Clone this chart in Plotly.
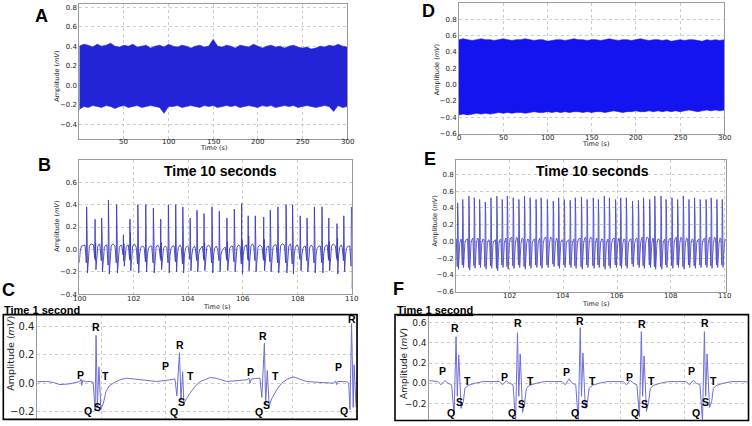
import plotly.graph_objects as go

W, H = 752, 426

# ---------------- Panel A / D : 300 s records (envelope of the dense trace) -------------
A_t = list(range(0, 301, 5))
A_upper = [0.40, 0.42, 0.41, 0.39, 0.42, 0.40, 0.41, 0.43, 0.40, 0.39,
           0.41, 0.40, 0.42, 0.39, 0.40, 0.41, 0.38, 0.40, 0.41, 0.39,
           0.42, 0.40, 0.39, 0.41, 0.40, 0.38, 0.40, 0.41, 0.39, 0.40,
           0.47, 0.40, 0.39, 0.41, 0.40, 0.38, 0.41, 0.40, 0.39, 0.42,
           0.40, 0.38, 0.40, 0.41, 0.39, 0.40, 0.38, 0.40, 0.41, 0.39,
           0.38, 0.39, 0.37, 0.38, 0.40, 0.39, 0.41, 0.40, 0.42, 0.40, 0.39]
A_lower = [-0.25, -0.22, -0.23, -0.21, -0.22, -0.23, -0.21, -0.22, -0.24, -0.22,
           -0.21, -0.23, -0.22, -0.21, -0.23, -0.22, -0.21, -0.22, -0.23, -0.29,
           -0.22, -0.22, -0.21, -0.23, -0.22, -0.21, -0.22, -0.23, -0.21, -0.22,
           -0.21, -0.23, -0.22, -0.21, -0.22, -0.21, -0.23, -0.22, -0.21, -0.22,
           -0.23, -0.21, -0.22, -0.21, -0.23, -0.22, -0.21, -0.22, -0.21, -0.23,
           -0.22, -0.21, -0.22, -0.23, -0.22, -0.21, -0.22, -0.27, -0.21, -0.23, -0.22]
A_xticks = [50, 100, 150, 200, 250, 300]

D_t = list(range(0, 301, 5))
D_upper = [0.55, 0.56, 0.55, 0.54, 0.55, 0.56, 0.55, 0.55, 0.54, 0.55,
           0.56, 0.55, 0.54, 0.55, 0.55, 0.56, 0.55, 0.54, 0.55, 0.55,
           0.53, 0.54, 0.55, 0.55, 0.54, 0.55, 0.56, 0.55, 0.55, 0.54,
           0.55, 0.55, 0.54, 0.55, 0.56, 0.55, 0.54, 0.55, 0.55, 0.54,
           0.55, 0.56, 0.55, 0.54, 0.55, 0.55, 0.54, 0.55, 0.53, 0.54,
           0.55, 0.54, 0.55, 0.55, 0.54, 0.53, 0.55, 0.54, 0.55, 0.54, 0.55]
D_lower = [-0.37, -0.36, -0.37, -0.36, -0.35, -0.36, -0.35, -0.36, -0.35, -0.34,
           -0.35, -0.34, -0.35, -0.34, -0.34, -0.35, -0.34, -0.33, -0.34, -0.34,
           -0.33, -0.34, -0.33, -0.34, -0.33, -0.34, -0.33, -0.33, -0.34, -0.33,
           -0.34, -0.33, -0.33, -0.34, -0.33, -0.32, -0.33, -0.34, -0.33, -0.33,
           -0.32, -0.33, -0.33, -0.32, -0.33, -0.32, -0.33, -0.32, -0.33, -0.32,
           -0.33, -0.32, -0.31, -0.32, -0.33, -0.32, -0.31, -0.32, -0.31, -0.32, -0.31]
D_xticks = [0, 50, 100, 150, 200, 250, 300]

# ---------------- Panel B : 10 s window (beat times / amplitudes) ----------------
B_beat_t = [100.27, 100.58, 100.82, 101.07, 101.37, 101.62, 101.86, 102.15, 102.44, 102.72,
            102.99, 103.27, 103.54, 103.80, 104.07, 104.32, 104.58, 104.87, 105.14, 105.42,
            105.69, 105.96, 106.20, 106.46, 106.77, 107.01, 107.29, 107.59, 107.83, 108.11,
            108.36, 108.63, 108.91, 109.16, 109.46, 109.71, 109.99]
B_R = [0.38, 0.27, 0.28, 0.44, 0.40, 0.13, 0.27, 0.40, 0.40, 0.37,
       0.27, 0.40, 0.40, 0.38, 0.28, 0.35, 0.32, 0.38, 0.34, 0.28,
       0.36, 0.41, 0.30, 0.30, 0.29, 0.35, 0.38, 0.40, 0.40, 0.30,
       0.28, 0.38, 0.38, 0.28, 0.23, 0.30, 0.38]
B_P2 = [0.10, 0.06, 0.12, 0.08, 0.10, 0.05, 0.15, 0.09, 0.07, 0.11,
        0.06, 0.10, 0.08, 0.12, 0.07, 0.10, 0.06, 0.09, 0.11, 0.07,
        0.10, 0.08, 0.12, 0.06, 0.09, 0.10, 0.07, 0.11, 0.08, 0.10,
        0.06, 0.09, 0.12, 0.07, 0.10, 0.08, 0.10]
B_S = [-0.21, -0.18, -0.20, -0.22, -0.21, -0.15, -0.19, -0.21, -0.20, -0.21,
       -0.18, -0.21, -0.20, -0.21, -0.19, -0.20, -0.19, -0.21, -0.20, -0.19,
       -0.20, -0.22, -0.19, -0.20, -0.19, -0.20, -0.21, -0.21, -0.22, -0.19,
       -0.20, -0.21, -0.21, -0.19, -0.22, -0.20, -0.35]
B_Q = [-0.12, -0.08, -0.10, -0.14, -0.12, -0.05, -0.09, -0.13, -0.11, -0.12,
       -0.08, -0.12, -0.11, -0.13, -0.09, -0.10, -0.09, -0.12, -0.10, -0.09,
       -0.11, -0.13, -0.09, -0.10, -0.09, -0.11, -0.12, -0.12, -0.13, -0.09,
       -0.10, -0.12, -0.12, -0.09, -0.08, -0.10, -0.15]
B_base = [0.04, 0.04, 0.03, 0.04, 0.03, 0.03, 0.04, 0.02, 0.02, 0.03,
          0.02, 0.02, 0.03, 0.02, 0.02, 0.01, 0.03, 0.02, 0.00, 0.02,
          0.03, 0.03, 0.04, 0.03, 0.02, 0.03, 0.04, 0.04, 0.03, 0.02,
          0.03, 0.02, 0.03, 0.04, 0.03, 0.02, 0.03]
B_xticks = [100, 102, 104, 106, 108, 110]

# ---------------- Panel E : 10 s window ----------------
E_beat_t = [100.06, 100.25, 100.48, 100.68, 100.88, 101.09, 101.30, 101.52, 101.72, 101.91,
            102.13, 102.34, 102.55, 102.76, 102.98, 103.17, 103.40, 103.62, 103.82, 104.03,
            104.25, 104.44, 104.67, 104.88, 105.11, 105.30, 105.52, 105.71, 105.94, 106.13,
            106.34, 106.57, 106.79, 106.98, 107.21, 107.40, 107.63, 107.82, 108.04, 108.25,
            108.46, 108.67, 108.88, 109.09, 109.31, 109.50, 109.71, 109.91]
E_R = [0.46, 0.50, 0.54, 0.52, 0.50, 0.47, 0.52, 0.54, 0.50, 0.54,
       0.52, 0.50, 0.54, 0.52, 0.50, 0.52, 0.50, 0.48, 0.52, 0.50,
       0.49, 0.52, 0.53, 0.50, 0.52, 0.50, 0.54, 0.52, 0.50, 0.52,
       0.52, 0.48, 0.49, 0.52, 0.50, 0.54, 0.54, 0.50, 0.52, 0.50,
       0.54, 0.50, 0.52, 0.50, 0.50, 0.52, 0.50, 0.50]
E_P2 = [0.28, 0.30, 0.32, 0.30, 0.28, 0.30, 0.31, 0.30, 0.29, 0.31,
        0.30, 0.28, 0.31, 0.30, 0.29, 0.30, 0.28, 0.30, 0.31, 0.29,
        0.30, 0.31, 0.30, 0.28, 0.30, 0.29, 0.31, 0.30, 0.29, 0.30,
        0.31, 0.28, 0.29, 0.30, 0.29, 0.31, 0.32, 0.29, 0.30, 0.28,
        0.31, 0.29, 0.30, 0.29, 0.30, 0.31, 0.29, 0.30]
E_S = [-0.33, -0.31, -0.34, -0.32, -0.31, -0.33, -0.32, -0.35, -0.31, -0.33,
       -0.32, -0.31, -0.33, -0.32, -0.31, -0.32, -0.31, -0.30, -0.32, -0.31,
       -0.31, -0.32, -0.33, -0.31, -0.32, -0.31, -0.33, -0.32, -0.31, -0.32,
       -0.32, -0.30, -0.31, -0.32, -0.31, -0.33, -0.33, -0.31, -0.32, -0.31,
       -0.33, -0.31, -0.32, -0.31, -0.31, -0.32, -0.31, -0.31]
E_Q = [-0.30, -0.28, -0.31, -0.29, -0.28, -0.30, -0.29, -0.32, -0.28, -0.30,
       -0.29, -0.28, -0.30, -0.29, -0.28, -0.29, -0.28, -0.27, -0.29, -0.28,
       -0.28, -0.29, -0.30, -0.28, -0.29, -0.28, -0.30, -0.29, -0.28, -0.29,
       -0.29, -0.27, -0.28, -0.29, -0.28, -0.30, -0.30, -0.28, -0.29, -0.28,
       -0.30, -0.28, -0.29, -0.28, -0.28, -0.29, -0.28, -0.28]
E_base = [0.03, 0.02, 0.03, 0.04, 0.03, 0.02, 0.01, 0.02, 0.03, 0.04,
          0.05, 0.04, 0.03, 0.02, 0.03, 0.04, 0.05, 0.04, 0.02, 0.01,
          0.02, 0.03, 0.04, 0.05, 0.04, 0.03, 0.02, 0.03, 0.04, 0.03,
          0.02, 0.03, 0.04, 0.05, 0.04, 0.03, 0.02, 0.03, 0.04, 0.05,
          0.04, 0.03, 0.02, 0.03, 0.04, 0.05, 0.04, 0.03]
E_xticks = [102, 104, 106, 108, 110]

# ---------------- Panel C : 1 s trace ----------------
C_t = [0.000, 0.030, 0.050, 0.071, 0.100, 0.124, 0.134, 0.137, 0.139, 0.142, 0.150, 0.165, 0.175,
       0.181, 0.184, 0.188, 0.193, 0.199, 0.207, 0.215, 0.225, 0.238, 0.260, 0.280, 0.300, 0.322,
       0.350, 0.374, 0.405, 0.425, 0.431, 0.437, 0.445, 0.450, 0.455, 0.459, 0.466, 0.478, 0.495,
       0.509, 0.541, 0.560, 0.593, 0.620, 0.656, 0.663, 0.666, 0.670, 0.690, 0.697, 0.703, 0.711,
       0.715, 0.720, 0.726, 0.734, 0.750, 0.765, 0.781, 0.801, 0.820, 0.843, 0.885, 0.927, 0.934,
       0.937, 0.940, 0.969, 0.975, 0.979, 0.984, 0.989, 0.992, 0.998]
C_v = [0.010, 0.012, 0.005, -0.010, -0.005, 0.010, 0.012, 0.030, -0.015, 0.020, 0.010, 0.012, 0.005,
       -0.195, 0.337, -0.170, 0.115, -0.185, -0.140, -0.060, -0.020, 0.000, 0.025, 0.035, 0.030, 0.025,
       0.015, 0.012, 0.020, 0.028, 0.030, -0.090, 0.215, -0.120, 0.080, -0.140, -0.110, -0.070, -0.020,
       0.010, 0.040, 0.035, 0.012, 0.015, 0.024, 0.035, 0.000, 0.030, 0.030, 0.035, -0.100, 0.280,
       -0.150, 0.090, -0.160, -0.110, -0.045, 0.000, 0.026, 0.045, 0.030, 0.012, 0.005, 0.000, 0.015,
       -0.010, 0.012, 0.010, 0.000, -0.186, 0.420, -0.170, 0.130, -0.170]
C_lab_text = ["P", "P", "P", "P", "R", "R", "R", "R", "T", "T", "T", "Q", "Q", "Q", "Q", "S", "S", "S"]
C_lab_t = [0.134, 0.400, 0.666, 0.942, 0.183, 0.447, 0.706, 0.986, 0.215, 0.480, 0.747,
           0.160, 0.429, 0.694, 0.961, 0.188, 0.452, 0.718]
C_lab_v = [0.061, 0.121, 0.082, 0.111, 0.395, 0.268, 0.330, 0.453, 0.054, 0.054, 0.054,
           -0.197, -0.204, -0.204, -0.197, -0.169, -0.134, -0.151]

# ---------------- Panel F : 1 s trace (5 beats) ----------------
F_beat_t = [0.084, 0.277, 0.474, 0.666, 0.864]
F_P = [0.026, 0.023, 0.043, 0.030, 0.030]
F_Q = [-0.31, -0.38, -0.38, -0.33, -0.38]
F_R = [0.46, 0.50, 0.55, 0.51, 0.51]
F_P2 = [0.28, 0.29, 0.30, 0.27, 0.29]
F_S = [-0.25, -0.29, -0.25, -0.28, -0.24]
F_lab_text = ["R"] * 5 + ["P"] * 5 + ["T"] * 5 + ["Q"] * 5 + ["S"] * 5
F_lab_t = [0.081, 0.278, 0.474, 0.669, 0.865,
           0.040, 0.236, 0.432, 0.629, 0.823,
           0.121, 0.317, 0.514, 0.697, 0.893,
           0.068, 0.260, 0.458, 0.645, 0.839,
           0.094, 0.288, 0.487, 0.676, 0.868]
F_lab_v = [0.546, 0.592, 0.612, 0.585, 0.592,
           0.121, 0.065, 0.114, 0.065, 0.121,
           0.023, 0.023, 0.023, 0.023, 0.023,
           -0.293, -0.293, -0.293, -0.293, -0.293,
           -0.188, -0.211, -0.211, -0.211, -0.188]


def band(t, up, lo):
    return t + t[::-1], up + lo[::-1]


def beats_B():
    x, y = [100.0, 100.03, 100.08], [-0.12, -0.02, 0.03]
    for i, t in enumerate(B_beat_t):
        b = B_base[i]
        x += [t - 0.06, t - 0.012, t, t + 0.01, t + 0.02, t + 0.03, t + 0.06, t + 0.10, t + 0.16]
        y += [b, B_Q[i], B_R[i], -0.10, B_P2[i], B_S[i], -0.05, b - 0.01, b + 0.01]
    return x, y


def beats_E():
    x, y = [100.0], [0.03]
    for i, t in enumerate(E_beat_t):
        b = E_base[i]
        x += [t - 0.05, t - 0.014, t, t + 0.009, t + 0.018, t + 0.03, t + 0.05, t + 0.08, t + 0.12]
        y += [b, E_Q[i], E_R[i], -0.10, E_P2[i], E_S[i], -0.10, -0.02, b]
    return x, y


def beats_F():
    x, y = [0.0, 0.015], [0.026, 0.020]
    offs = [-0.057, -0.047, -0.035, -0.025, -0.014, -0.006, 0.0, 0.004, 0.0085,
            0.016, 0.023, 0.028, 0.039, 0.060, 0.085, 0.116]
    for i, t in enumerate(F_beat_t):
        vals = [0.016, -0.016, F_P[i], 0.0, -0.016, F_Q[i], F_R[i], -0.13, F_P2[i],
                F_S[i], -0.18, -0.05, -0.02, 0.0, 0.016, 0.016]
        x += [t + o for o in offs]
        y += vals
    x += [1.0]
    y += [0.012]
    return x, y


def dx(l, r):
    return [l / W, r / W]


def dy(top, bottom):
    return [1 - bottom / H, 1 - top / H]


fig = go.Figure()

ax, ay = band(A_t, A_upper, A_lower)
fig.add_trace(go.Scatter(x=ax, y=ay, fill="toself", mode="lines",
                         line=dict(color="rgb(35,35,215)", width=0.6),
                         fillcolor="rgb(35,35,215)", xaxis="x", yaxis="y"))
bx, by = beats_B()
fig.add_trace(go.Scatter(x=bx, y=by, mode="lines", line=dict(color="rgb(60,60,190)", width=0.9),
                         xaxis="x2", yaxis="y2"))
fig.add_trace(go.Scatter(x=C_t, y=C_v, mode="lines", line=dict(color="rgb(110,110,215)", width=1),
                         xaxis="x3", yaxis="y3"))
dxx, dyy = band(D_t, D_upper, D_lower)
fig.add_trace(go.Scatter(x=dxx, y=dyy, fill="toself", mode="lines",
                         line=dict(color="rgb(20,20,240)", width=0.6),
                         fillcolor="rgb(20,20,240)", xaxis="x4", yaxis="y4"))
ex, ey = beats_E()
fig.add_trace(go.Scatter(x=ex, y=ey, mode="lines", line=dict(color="rgb(75,75,200)", width=0.9),
                         xaxis="x5", yaxis="y5"))
fx, fy = beats_F()
fig.add_trace(go.Scatter(x=fx, y=fy, mode="lines", line=dict(color="rgb(110,110,215)", width=1),
                         xaxis="x6", yaxis="y6"))

tick_small = dict(family="DejaVu Sans", size=7, color="#222")


def axc(**kw):
    d = dict(showgrid=True, gridcolor="#cccccc", griddash="dot", gridwidth=1,
             showline=True, linecolor="#9a9a9a", linewidth=1, mirror=True,
             ticks="", zeroline=False, tickfont=tick_small, fixedrange=True)
    d.update(kw)
    return d


fig.update_layout(
    width=W, height=H, margin=dict(l=0, r=0, t=0, b=0), autosize=False,
    paper_bgcolor="white", plot_bgcolor="white", showlegend=False,
    xaxis=axc(domain=dx(79.3, 347), range=[0, 300], tickvals=A_xticks, showticklabels=False, anchor="y"),
    yaxis=axc(domain=dy(3.3, 139.3), range=[-0.55, 0.83],
              tickvals=[-0.4, -0.2, 0.0, 0.2, 0.4, 0.6, 0.8], tickformat=".1f", anchor="x"),
    xaxis2=axc(domain=dx(79.3, 351.7), range=[100, 110], tickvals=B_xticks, showticklabels=False, anchor="y2"),
    yaxis2=axc(domain=dy(160.7, 296.7), range=[-0.4, 0.8],
               tickvals=[-0.4, -0.2, 0.0, 0.2, 0.4, 0.6], tickformat=".1f", anchor="x2"),
    xaxis3=axc(domain=dx(37.3, 356.7), range=[0, 1.0], tickvals=[0.2, 0.4, 0.6, 0.8],
               showticklabels=False, anchor="y3"),
    yaxis3=axc(domain=dy(317.3, 423), range=[-0.253, 0.484], tickvals=[-0.2, 0.0, 0.2, 0.4],
               tickformat=".1f", tickfont=dict(family="DejaVu Sans", size=10, color="#222"), anchor="x3"),
    xaxis4=axc(domain=dx(459, 724.3), range=[0, 300], tickvals=D_xticks, showticklabels=False, anchor="y4"),
    yaxis4=axc(domain=dy(1.9, 134.3), range=[-0.6, 1.0],
               tickvals=[-0.6, -0.4, -0.2, 0.0, 0.2, 0.4, 0.6, 0.8], tickformat=".1f", anchor="x4"),
    xaxis5=axc(domain=dx(456, 726), range=[100, 110.05], tickvals=E_xticks, showticklabels=False, anchor="y5"),
    yaxis5=axc(domain=dy(160.7, 294.3), range=[-0.6, 0.972],
               tickvals=[-0.6, -0.4, -0.2, 0.0, 0.2, 0.4, 0.6, 0.8], tickformat=".1f", anchor="x5"),
    xaxis6=axc(domain=dx(429.3, 747.7), range=[0, 1.0], tickvals=[0.2, 0.4, 0.6, 0.8],
               showticklabels=False, anchor="y6"),
    yaxis6=axc(domain=dy(317.3, 423.5), range=[-0.36, 0.68], tickvals=[-0.2, 0.0, 0.2, 0.4, 0.6],
               tickformat=".1f", tickfont=dict(family="DejaVu Sans", size=9, color="#222"), anchor="x6"),
)

ann = []


def pa(text, x, y, size, bold=True, family="Liberation Sans", angle=0, color="black"):
    ann.append(dict(text=("<b>%s</b>" % text) if bold else text, x=x / W, y=1 - y / H,
                    xref="paper", yref="paper", showarrow=False, textangle=angle,
                    font=dict(family=family, size=size, color=color),
                    xanchor="center", yanchor="middle"))


# x tick labels placed just under each axis
def xticks(ticks, xref, y_px):
    for v in ticks:
        ann.append(dict(text=str(v), x=v, y=1 - y_px / H, xref=xref, yref="paper", showarrow=False,
                        xanchor="center", yanchor="middle",
                        font=dict(family="DejaVu Sans", size=7, color="#222")))


xticks(A_xticks, "x", 142.6)
xticks(D_xticks, "x4", 138.4)
xticks(B_xticks, "x2", 301.8)
xticks(E_xticks, "x5", 298.6)

# panel letters
pa("A", 41, 15, 18)
pa("D", 428.5, 10, 18)
pa("B", 44.5, 166, 18)
pa("E", 429.5, 159.5, 18)
pa("C", 8.5, 292, 18)
pa("F", 398.5, 291, 18)
# titles
pa("Time 10 seconds", 220, 172.3, 14)
pa("Time 10 seconds", 592.5, 171.7, 14)
ann.append(dict(text="<b>Time 1 second</b>", x=2 / W, y=1 - 312.3 / H, xref="paper", yref="paper",
                showarrow=False, xanchor="left", yanchor="middle",
                font=dict(family="Liberation Sans", size=11, color="black")))
ann.append(dict(text="<b><u>Time 1 second</u></b>", x=395 / W, y=1 - 312.3 / H, xref="paper", yref="paper",
                showarrow=False, xanchor="left", yanchor="middle",
                font=dict(family="Liberation Sans", size=11, color="black")))
# axis titles
amp = "Amplitude (<i>mV</i>)"
pa(amp, 56.7, 76, 6.5, bold=False, family="DejaVu Sans", angle=-90, color="#222")
pa(amp, 437, 69, 6.5, bold=False, family="DejaVu Sans", angle=-90, color="#222")
pa(amp, 57, 228.5, 6.5, bold=False, family="DejaVu Sans", angle=-90, color="#222")
pa(amp, 435, 223, 6.5, bold=False, family="DejaVu Sans", angle=-90, color="#222")
pa(amp, 11, 357, 9.5, bold=False, family="DejaVu Sans", angle=-90, color="#222")
pa(amp, 403.3, 367, 9, bold=False, family="DejaVu Sans", angle=-90, color="#222")
pa("Time (s)", 213.3, 149, 6.5, bold=False, family="DejaVu Sans", color="#222")
pa("Time (s)", 595, 144.8, 6.5, bold=False, family="DejaVu Sans", color="#222")
pa("Time (s)", 216.7, 309.5, 6.5, bold=False, family="DejaVu Sans", color="#222")
pa("Time (s)", 595.3, 306.2, 6.5, bold=False, family="DejaVu Sans", color="#222")

# wave labels
for s, t, v in zip(C_lab_text, C_lab_t, C_lab_v):
    ann.append(dict(text="<b>%s</b>" % s, x=t, y=v, xref="x3", yref="y3", showarrow=False,
                    font=dict(family="Liberation Sans", size=10.5, color="black")))
for s, t, v in zip(F_lab_text, F_lab_t, F_lab_v):
    ann.append(dict(text="<b>%s</b>" % s, x=t, y=v, xref="x6", yref="y6", showarrow=False,
                    font=dict(family="Liberation Sans", size=10.5, color="black")))

fig.update_layout(annotations=ann)

shapes = [
    dict(type="rect", xref="paper", yref="paper", x0=3.3 / W, x1=357 / W, y0=1 - 423.3 / H, y1=1 - 317.3 / H,
         line=dict(color="black", width=1.6), layer="above"),
    dict(type="rect", xref="paper", yref="paper", x0=395 / W, x1=748.5 / W, y0=1 - 424.5 / H, y1=1 - 317.3 / H,
         line=dict(color="black", width=1.6), layer="above"),
]
fig.update_layout(shapes=shapes)

# the page body has a default 8px margin; remove it so the figure sits at the window origin
fig.write_html("out.html", config={"displayModeBar": False, "staticPlot": True},
               post_script="document.body.style.margin='0';document.body.style.padding='0';")
